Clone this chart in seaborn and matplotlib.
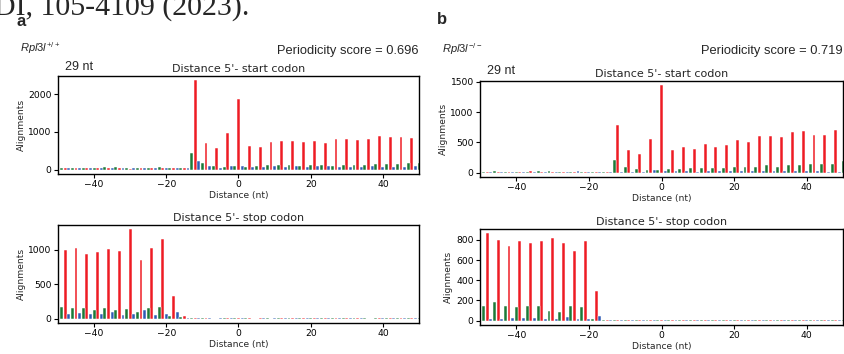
import matplotlib
matplotlib.use('Agg')
import matplotlib.pyplot as plt
import pandas as pd
import seaborn as sns

# ---------------- data ----------------
positions = list(range(-50, 51))

a_start = [
    30, 35, 30, 45, 40, 45, 35, 40, 40, 35,      # -50..-41
    40, 35, 45, 60, 40, 50, 65, 30, 30, 30,      # -40..-31
    25, 40, 45, 35, 35, 40, 35, 45, 70, 35,      # -30..-21
    40, 30, 30, 30, 30, 30, 35, 430, 2360, 220,  # -20..-11
    170, 695, 85, 100, 580, 45, 80, 965, 100, 85,  # -10..-1
    1860,                                          # 0
    85, 80, 615, 60, 105, 595, 65, 110, 720, 85,   # 1..10
    130, 745, 70, 120, 745, 95, 105, 735, 75, 130,  # 11..20
    745, 90, 125, 710, 85, 105, 820, 80, 120, 810,  # 21..30
    80, 130, 785, 80, 125, 820, 90, 150, 890, 75,   # 31..40
    135, 865, 70, 145, 860, 80, 170, 830, 95, 165,  # 41..50
]

a_stop = [
    65, 170, 990, 70, 150, 1020, 75, 160, 945, 65,     # -50..-41
    125, 970, 70, 155, 1005, 95, 125, 975, 55, 145,    # -40..-31
    1295, 60, 95, 850, 125, 150, 1030, 55, 175, 1160,  # -30..-21
    65, 40, 330, 95, 20, 35, 15, 10, 8, 6,             # -20..-11
    6, 5, 5, 0, 0, 4, 6, 5, 8, 12,                     # -10..-1
    10,                                                # 0
    8, 6, 5, 0, 0, 5, 4, 6, 0, 8,                      # 1..10
    6, 5, 4, 6, 8, 10, 5, 4, 6, 5,                     # 11..20
    8, 6, 5, 4, 6, 5, 8, 6, 5, 4,                      # 21..30
    6, 5, 4, 6, 5, 0, 0, 5, 4, 6,                      # 31..40
    5, 4, 6, 5, 6, 5, 4, 6, 5, 4,                      # 41..50
]

b_start = [
    10, 12, 15, 18, 20, 15, 12, 15, 12, 18,      # -50..-41
    15, 12, 18, 15, 20, 15, 28, 12, 10, 25,      # -40..-31
    10, 10, 15, 12, 15, 12, 10, 20, 15, 12,      # -30..-21
    12, 10, 10, 10, 12, 10, 10, 205, 790, 15,    # -20..-11
    92, 370, 15, 65, 315, 15, 45, 560, 38, 45,   # -10..-1
    1440,                                        # 0
    25, 55, 370, 33, 55, 430, 20, 70, 395, 15,   # 1..10
    75, 470, 20, 75, 425, 20, 80, 460, 25, 100,  # 11..20
    535, 20, 90, 510, 20, 90, 600, 25, 130, 605,  # 21..30
    20, 95, 580, 20, 120, 675, 25, 125, 680, 20,  # 31..40
    135, 625, 20, 145, 615, 15, 150, 700, 15, 185,  # 41..50
]

b_stop = [
    20, 150, 865, 20, 180, 800, 13, 150, 740, 28,    # -50..-41
    140, 793, 25, 150, 768, 22, 145, 790, 15, 100,   # -40..-31
    820, 13, 85, 767, 35, 145, 695, 15, 140, 793,    # -30..-21
    20, 20, 295, 45, 10, 10, 8, 6, 5, 4,             # -20..-11
    5, 4, 4, 5, 4, 6, 5, 4, 5, 8,                    # -10..-1
    10,                                              # 0
    6, 5, 4, 5, 4, 5, 6, 5, 10, 4,                   # 1..10
    5, 4, 10, 6, 5, 4, 5, 4, 5, 6,                   # 11..20
    4, 5, 6, 5, 4, 5, 6, 10, 5, 4,                   # 21..30
    5, 6, 5, 8, 4, 5, 4, 5, 6, 5,                    # 31..40
    4, 5, 6, 5, 4, 5, 6, 5, 8, 6,                    # 41..50
]

frame_order = ['0', '1', '2']
frame_colors = {'0': '#ee1c24', '1': '#2f5cb4', '2': '#1c7a38'}

xticks = [-40, -20, 0, 20, 40]
yticks_a_start = [0, 1000, 2000]
yticks_a_stop = [0, 500, 1000]
yticks_b_start = [0, 500, 1000, 1500]
yticks_b_stop = [0, 200, 400, 600, 800]

# ---------------- style ----------------
sns.set_style('ticks')
plt.rcParams['font.family'] = ['DejaVu Sans']
plt.rcParams['mathtext.fontset'] = 'custom'
plt.rcParams['mathtext.it'] = 'Liberation Sans:italic'
plt.rcParams['mathtext.rm'] = 'Liberation Sans'
plt.rcParams['axes.edgecolor'] = 'black'
plt.rcParams['axes.linewidth'] = 1.0

W, H = 845, 354
fig = plt.figure(figsize=(W / 100, H / 100), dpi=100)


def rect(l, t, r, b):
    return [l / W, 1 - b / H, (r - l) / W, (b - t) / H]


def px(x, y):
    return x / W, 1 - y / H


def draw(box, counts, title, yticks):
    ax = fig.add_axes(box)
    df = pd.DataFrame({
        'Distance': positions,
        'Alignments': counts,
        'frame': [str(p % 3) for p in positions],
    })
    sns.barplot(data=df, x='Distance', y='Alignments', hue='frame',
                hue_order=frame_order, palette=frame_colors,
                native_scale=True, dodge=False, legend=False,
                errorbar=None, saturation=1, width=0.8,
                edgecolor='white', linewidth=0.35, ax=ax)
    ymax = max(counts)
    ax.set_xlim(-50, 50)
    ax.set_ylim(-0.05 * ymax, 1.05 * ymax)
    ax.set_xticks(xticks)
    ax.set_yticks(yticks)
    ax.tick_params(labelsize=6.6, length=3, width=0.8, pad=1.5, colors='black')
    ax.set_xlabel('Distance (nt)', fontsize=6.6, labelpad=1)
    ax.set_ylabel('Alignments', fontsize=6.6, labelpad=2)
    ax.set_title(title, fontsize=8, pad=3)
    for s in ax.spines.values():
        s.set_visible(True)
        s.set_color('black')
    return ax


draw(rect(58, 76, 419, 174), a_start, "Distance 5'- start codon", yticks_a_start)
draw(rect(58, 225, 419, 323), a_stop, "Distance 5'- stop codon", yticks_a_stop)
draw(rect(480, 81, 843, 177), b_start, "Distance 5'- start codon", yticks_b_start)
draw(rect(480, 229, 843, 325), b_stop, "Distance 5'- stop codon", yticks_b_stop)

# ---------------- annotations ----------------
fig.text(*px(-6, 15), 'DI, 105-4109 (2023).', family='Liberation Serif',
         fontsize=21.5, ha='left', va='baseline')
fig.text(*px(17, 21), 'a', family='Liberation Sans', fontweight='bold',
         fontsize=12, ha='left', va='center')
fig.text(*px(437, 20), 'b', family='Liberation Sans', fontweight='bold',
         fontsize=12, ha='left', va='center')

fig.text(*px(20, 48), r'$\mathit{Rpl3l}^{+/+}$', fontsize=8, ha='left', va='center')
fig.text(*px(442, 49), r'$\mathit{Rpl3l}^{-/-}$', fontsize=8, ha='left', va='center')

fig.text(*px(419, 51), 'Periodicity score = 0.696', family='Liberation Sans',
         fontsize=9.3, ha='right', va='center')
fig.text(*px(843, 51), 'Periodicity score = 0.719', family='Liberation Sans',
         fontsize=9.3, ha='right', va='center')

fig.text(*px(65, 67), '29 nt', family='Liberation Sans', fontsize=9,
         ha='left', va='center')
fig.text(*px(487, 71), '29 nt', family='Liberation Sans', fontsize=9,
         ha='left', va='center')

fig.savefig('out.png', dpi=100)
